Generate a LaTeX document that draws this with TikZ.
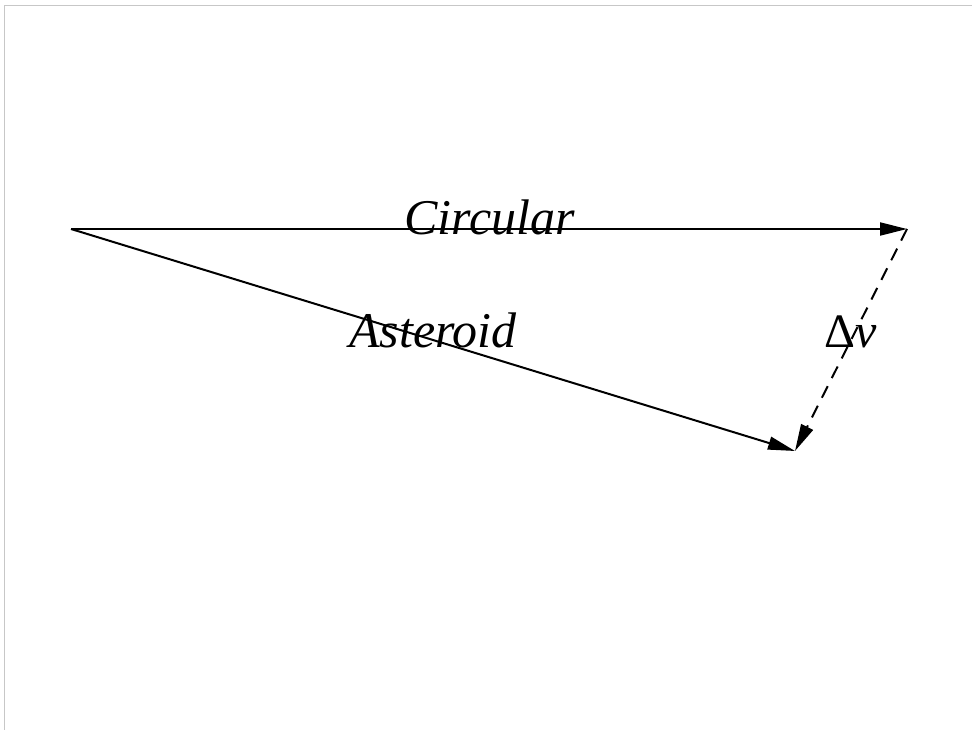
\documentclass[tikz,border=0pt]{standalone}
\usepackage{fontspec}
\setmainfont{Liberation Serif}
\usetikzlibrary{arrows.meta}
\tikzset{
  vec/.style={line width=2pt, -{Triangle[length=27pt,width=13pt]}},
  dvec/.style={vec, dash pattern=on 13pt off 9pt},
  lbl/.style={inner sep=0pt, anchor=base west, font=\fontsize{50}{56}\selectfont\itshape},
  frame/.style={draw=black!22, line width=1.6pt}
}
\begin{document}
\begin{tikzpicture}[x=1pt,y=-1pt]
\useasboundingbox (0,0) rectangle (972,730);
\draw[frame] (4.5,730) -- (4.5,5.5) -- (972,5.5);
\coordinate (O) at (71,229);
\coordinate (C) at (907,229);
\coordinate (A) at (795,451);
\draw[vec] (O) -- (C);
\draw[vec] (O) -- (A);
\draw[dvec] (C) -- (A);
\node[lbl] (circ) at (404,235) {Circular};
\node[lbl] (ast) at (349,347) {Asteroid};
\node[lbl] (dv) at (824,347) {\upshape\fontsize{48}{52}\selectfont Δ\itshape v};
\end{tikzpicture}
\end{document}
